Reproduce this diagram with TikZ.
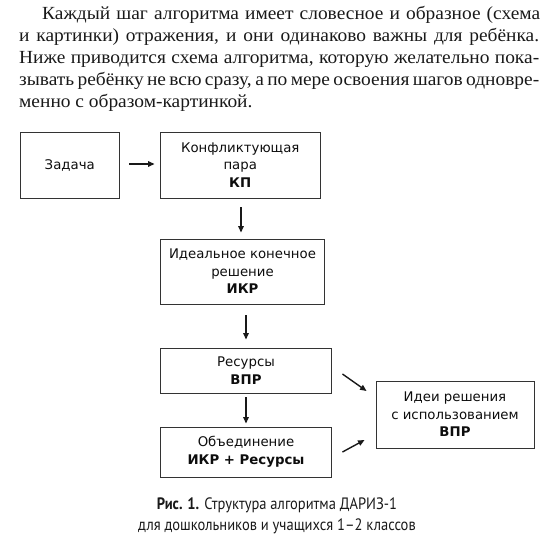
\documentclass[tikz,border=0pt]{standalone}
\usepackage{fontspec}
\setmainfont{Liberation Serif}
\newfontfamily\parafont[FakeStretch=1.05]{Liberation Serif}
\newfontfamily\boxfont{DejaVu Sans}
\newfontfamily\capfont[FakeStretch=0.88]{PT Sans}
\usetikzlibrary{arrows.meta}
\begin{document}
\begin{tikzpicture}[x=1pt,y=-1pt,
  box/.style={draw=black!80, line width=0.9pt, inner sep=0pt, align=center,
    font=\boxfont\fontsize{13.3}{17.5}\selectfont, text=black!95},
  arr/.style={draw=black!90, line width=1.4pt, -{Triangle[length=6.5pt,width=5.5pt]}},
  para/.style={anchor=base west, inner sep=0pt, text=black!90, font=\parafont\fontsize{18.5}{22}\selectfont},
  capt/.style={anchor=base, inner sep=0pt, text=black!90, font=\capfont\fontsize{16.5}{21}\selectfont}]
\useasboundingbox (0,0) rectangle (553,560);

\node[para] (p1) at (42,19) {\makebox[498pt][s]{Каждый шаг алгоритма имеет словесное и образное (схема}};
\node[para] (p2) at (19,41) {\makebox[520pt][s]{и картинки) отражения, и они одинаково важны для ребёнка.}};
\node[para] (p3) at (19,63) {\makebox[520pt][s]{Ниже приводится схема алгоритма, которую желательно пока-}};
\node[para] (p4) at (19,85) {\makebox[520pt][s]{зывать ребёнку не всю сразу, а по мере освоения шагов одновре-}};
\node[para] (p5) at (19,107) {менно с образом-картинкой.};

\node[box, minimum width=98.5pt, minimum height=66pt] (zad) at (69.75,165) {Задача};
\node[box, minimum width=159.5pt, minimum height=66pt] (kp) at (240.25,165) {Конфликтующая\\пара\\\textbf{КП}};
\node[box, minimum width=164pt, minimum height=65pt] (ikr) at (242.5,271.5) {Идеальное конечное\\решение\\\textbf{ИКР}};
\node[box, minimum width=171pt, minimum height=45pt] (res) at (246,370.5) {Ресурсы\\\textbf{ВПР}};
\node[box, minimum width=171pt, minimum height=50pt] (obj) at (246,452) {Объединение\\\textbf{ИКР + Ресурсы}};
\node[box, minimum width=158pt, minimum height=67pt] (idei) at (455,414.5) {Идеи решения\\с использованием\\\textbf{ВПР}};

\draw[arr] ([xshift=10pt,yshift=1pt]zad.east) -- ([xshift=-5.5pt,yshift=1pt]kp.west);
\draw[arr] ([xshift=0.75pt,yshift=-9pt]kp.south) -- ([xshift=-1.5pt,yshift=6pt]ikr.north);
\draw[arr] ([xshift=3.5pt,yshift=-11pt]ikr.south) -- ([yshift=8pt]res.north);
\draw[arr] ([yshift=-4pt]res.south) -- ([yshift=3pt]obj.north);
\draw[arr] ([xshift=10.5pt,yshift=-3.5pt]res.east) -- ([xshift=-9pt,yshift=23.5pt]idei.west);
\draw[arr] ([xshift=10.5pt]obj.east) -- ([xshift=-11pt,yshift=-25.5pt]idei.west);

\node[capt] (c1) at (277,509) {\textbf{Рис. 1.} Структура алгоритма ДАРИЗ-1};
\node[capt] (c2) at (277,530) {для дошкольников и учащихся 1–2 классов};
\end{tikzpicture}
\end{document}
